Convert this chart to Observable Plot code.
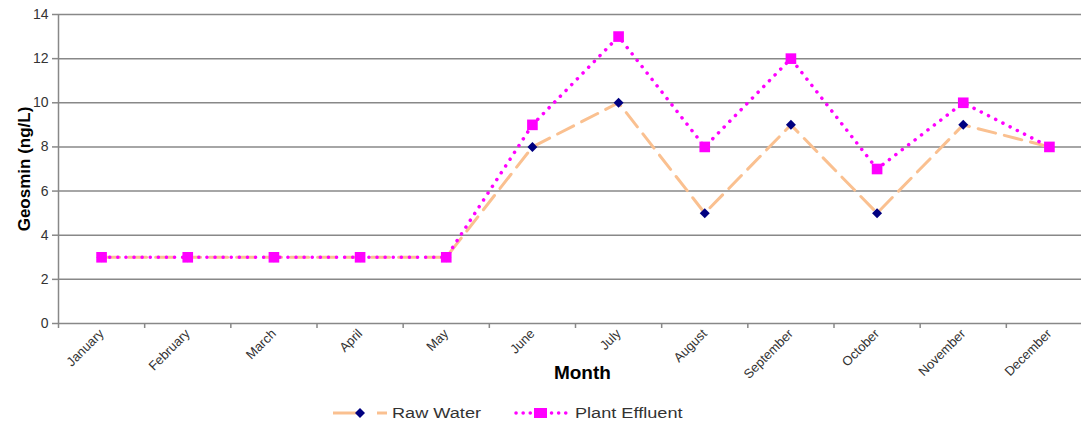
<!DOCTYPE html>
<html>
<head>
<meta charset="utf-8">
<script src="https://cdn.jsdelivr.net/npm/d3@7"></script>
<script src="https://cdn.jsdelivr.net/npm/@observablehq/plot@0.6"></script>
<style>
  html, body { margin: 0; padding: 0; background: #fff; overflow: hidden; }
  #chart svg { display: block; font-family: "Liberation Sans", Arial, sans-serif; overflow: hidden; }
  #chart g[aria-label="y-axis label"] text { font-weight: bold; fill: #000; font-size: 17px; }
  #legend { position: relative; height: 29px; width: 1081px; font-family: "Liberation Sans", Arial, sans-serif; font-size: 15.5px; color: #333; }
  #legend .item { position: absolute; top: 12px; display: flex; align-items: center; }
  #legend svg { display: block; }
  #legend span { display: inline-block; transform: scaleX(1.17); transform-origin: left center; }
</style>
</head>
<body>
<div id="chart"></div>
<div id="legend">
  <div class="item" style="left:331px;">
    <svg width="58" height="14"><line x1="2" y1="7" x2="30" y2="7" stroke="#FAC090" stroke-width="3"/><line x1="46" y1="7" x2="56" y2="7" stroke="#FAC090" stroke-width="3"/><path d="M29 2 L34 7 L29 12 L24 7 Z" fill="#000080"/></svg>
    <span style="margin-left:3px;">Raw Water</span>
  </div>
  <div class="item" style="left:513px;">
    <svg width="58" height="14"><line x1="3" y1="7" x2="55" y2="7" stroke="#FF00FF" stroke-width="3.5" stroke-dasharray="0.1,7" stroke-linecap="round"/><rect x="21" y="2" width="13" height="10" fill="#FF00FF"/></svg>
    <span style="margin-left:4px;">Plant Effluent</span>
  </div>
</div>
<script>
const months = ["January","February","March","April","May","June","July","August","September","October","November","December"];
const rawWater = [3,3,3,3,3,8,10,5,9,5,9,8];
const plantEffluent = [3,3,3,3,3,9,13,8,12,7,10,8];
const yTicks = [0,2,4,6,8,10,12,14];

const raw = months.map((m, i) => ({i, v: rawWater[i]}));
const eff = months.map((m, i) => ({i, v: plantEffluent[i]}));
const centers = months.map((m, i) => i);
const bounds = d3.range(-0.5, 11.5, 1);

const chart = Plot.plot({
  width: 1081,
  height: 392,
  marginLeft: 58,
  marginTop: 14,
  marginBottom: 69,
  marginRight: 0,
  style: {fontFamily: "Liberation Sans, Arial, sans-serif", background: "#fff"},
  x: {type: "linear", domain: [-0.5, 11.5], range: [58, 1092]},
  y: {domain: [0, 14], range: [323, 14]},
  marks: [
    Plot.ruleY(yTicks, {stroke: "#888", strokeWidth: 1.5}),
    Plot.ruleX([-0.5], {stroke: "#888", strokeWidth: 1.5}),
    Plot.axisY({ticks: yTicks, tickSize: 6, tickPadding: 4, fontSize: 14, color: "#333", stroke: "#888", strokeWidth: 1.5,
      label: "Geosmin (ng/L)", labelAnchor: "center", labelOffset: 41, labelArrow: "none"}),
    Plot.axisX({ticks: bounds, tickSize: 5, tickFormat: () => "", stroke: "#888", strokeWidth: 1.5, label: null}),
    Plot.axisX({ticks: centers, tickSize: 0, tickFormat: i => months[i], tickRotate: -45, tickPadding: 8, fontSize: 13, color: "#333", label: null}),
    Plot.text(["Month"], {x: 5.58, frameAnchor: "bottom", dy: 55, fontSize: 19, fontWeight: "bold", fill: "#000"}),
    Plot.line(raw, {x: "i", y: "v", stroke: "#FAC090", strokeWidth: 3, strokeDasharray: "18,9"}),
    Plot.dot(raw, {x: "i", y: "v", symbol: "diamond2", r: 4.5, fill: "#000080"}),
    Plot.line(eff, {x: "i", y: "v", stroke: "#FF00FF", strokeWidth: 3.5, strokeDasharray: "0.1,8", strokeLinecap: "round"}),
    Plot.dot(eff, {x: "i", y: "v", symbol: "square", r: 6, fill: "#FF00FF"})
  ]
});
document.getElementById("chart").appendChild(chart);
</script>
</body>
</html>
